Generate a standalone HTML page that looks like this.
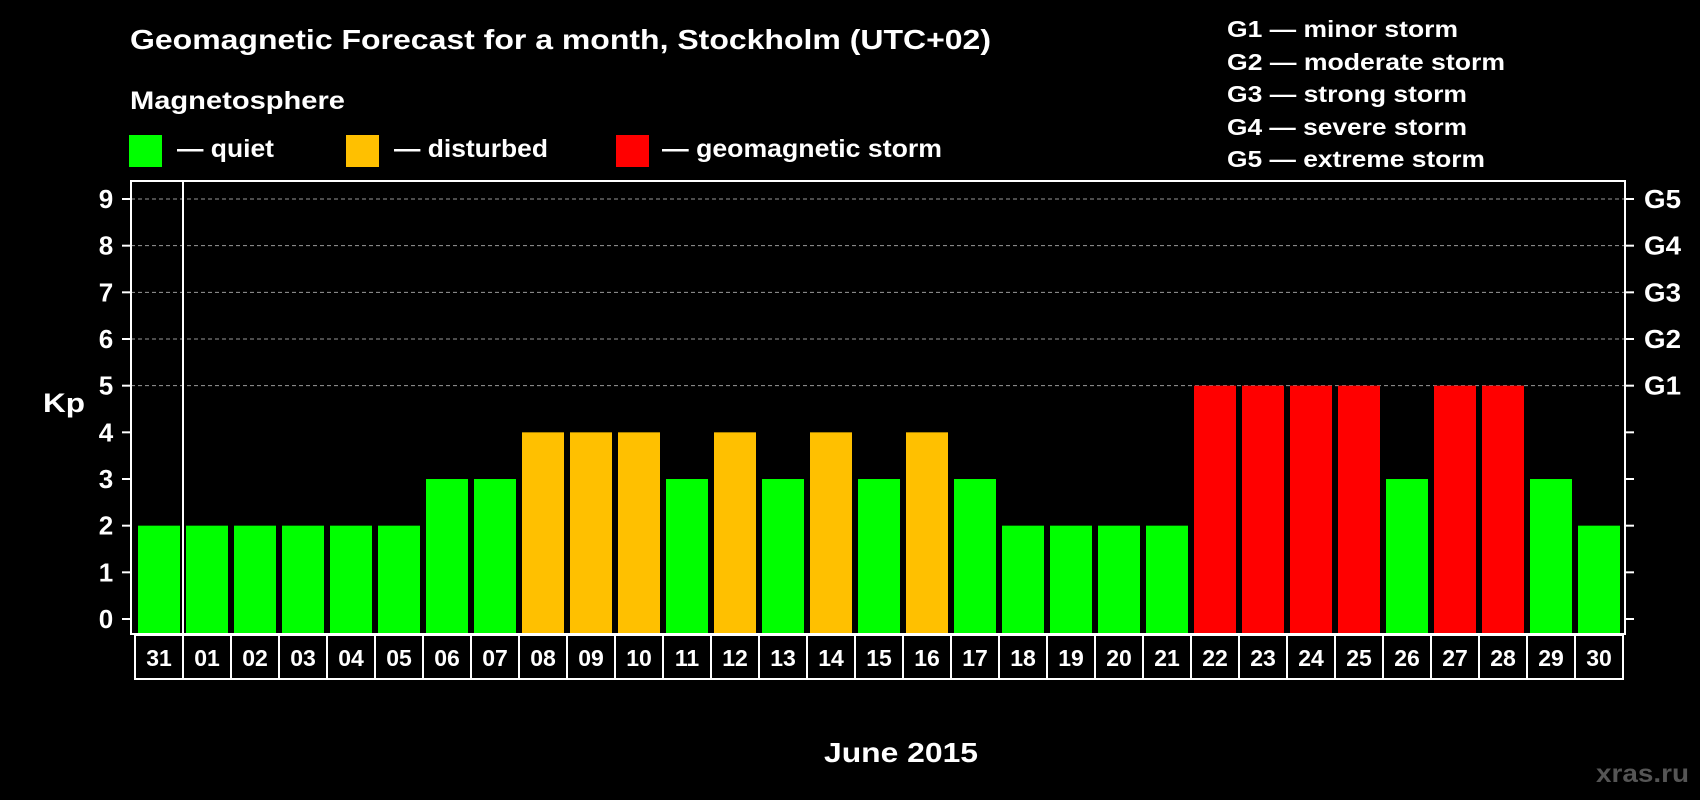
<!DOCTYPE html>
<html><head><meta charset="utf-8"><style>
html,body{margin:0;padding:0;background:#000;}
svg{display:block;font-family:"Liberation Sans",Arial,sans-serif;font-weight:bold;}
</style></head><body>
<svg id="chart" width="1700" height="800" viewBox="0 0 1700 800">
<rect x="0" y="0" width="1700" height="800" fill="#000"/>
<text x="130" y="49" font-size="28" fill="#fff" textLength="861" lengthAdjust="spacingAndGlyphs">Geomagnetic Forecast for a month, Stockholm (UTC+02)</text>
<text x="130" y="109" font-size="25" fill="#fff" textLength="215" lengthAdjust="spacingAndGlyphs">Magnetosphere</text>
<g>
<rect x="129" y="135" width="33" height="32" fill="#00ff00"/>
<text x="177" y="157" font-size="25" fill="#fff" textLength="97" lengthAdjust="spacingAndGlyphs">— quiet</text></g>
<g>
<rect x="346" y="135" width="33" height="32" fill="#ffc000"/>
<text x="394" y="157" font-size="25" fill="#fff" textLength="154" lengthAdjust="spacingAndGlyphs">— disturbed</text></g>
<g>
<rect x="616" y="135" width="33" height="32" fill="#ff0000"/>
<text x="662" y="157" font-size="25" fill="#fff" textLength="280" lengthAdjust="spacingAndGlyphs">— geomagnetic storm</text></g>
<g font-size="23" fill="#fff">
<text x="1227" y="37" textLength="231" lengthAdjust="spacingAndGlyphs">G1 — minor storm</text>
<text x="1227" y="70" textLength="278" lengthAdjust="spacingAndGlyphs">G2 — moderate storm</text>
<text x="1227" y="102" textLength="240" lengthAdjust="spacingAndGlyphs">G3 — strong storm</text>
<text x="1227" y="135" textLength="240" lengthAdjust="spacingAndGlyphs">G4 — severe storm</text>
<text x="1227" y="167" textLength="258" lengthAdjust="spacingAndGlyphs">G5 — extreme storm</text>
</g>
<text x="43" y="412" font-size="27" fill="#fff" textLength="42" lengthAdjust="spacingAndGlyphs">Kp</text>
<text x="824" y="762" font-size="28" fill="#fff" textLength="154" lengthAdjust="spacingAndGlyphs">June 2015</text>
<text x="1596" y="782" font-size="25" fill="#555" textLength="93" lengthAdjust="spacingAndGlyphs">xras.ru</text>
<g id="grid"></g><g id="bars"></g><g id="axes"></g>
</svg>
<script>
const days = ["31","01","02","03","04","05","06","07","08","09","10","11","12","13","14","15","16","17","18","19","20","21","22","23","24","25","26","27","28","29","30"];
const kpValues = [2,2,2,2,2,2,3,3,4,4,4,3,4,3,4,3,4,3,2,2,2,2,5,5,5,5,3,5,5,3,2];
const yTicks = [0,1,2,3,4,5,6,7,8,9];
const gLabels = ["G1","G2","G3","G4","G5"];
const gLevels = [5,6,7,8,9];
const NS="http://www.w3.org/2000/svg";
const X0=132, SLOT=48, Y0=619, UNIT=(619-199)/9;
const PL=131, PT=181, PR=1625, PB=634;
function xs(i){return X0+SLOT*i;}
function ys(v){return Y0-v*UNIT;}
function mk(tag,attrs,parent){const e=document.createElementNS(NS,tag);for(const k in attrs)e.setAttribute(k,attrs[k]);parent.appendChild(e);return e;}
function color(v){return v>=5?"#ff0000":(v>=4?"#ffc000":"#00ff00");}
const grid=document.getElementById('grid'),bars=document.getElementById('bars'),axes=document.getElementById('axes');
gLevels.forEach((v,i)=>{
  const l=mk('line',{x1:PL,x2:PR,y1:ys(v),y2:ys(v),stroke:'#999','stroke-dasharray':'4,3','stroke-width':1},grid);
  
  
  const t=mk('text',{x:1644,y:ys(v)+9,'font-size':26,fill:'#fff',textLength:37,lengthAdjust:'spacingAndGlyphs'},axes);
  t.textContent=gLabels[i];
  
  
});
kpValues.forEach((v,i)=>{
  const r=mk('rect',{x:xs(i)+6,y:ys(v),width:42,height:PB-ys(v)-1,fill:color(v)},bars);
  
  
});
const frame=mk('rect',{x:PL,y:PT,width:PR-PL,height:PB-PT,fill:'none',stroke:'#fff','stroke-width':2},axes);


const div=mk('line',{x1:183,x2:183,y1:PT,y2:PB,stroke:'#fff','stroke-width':2},axes);


yTicks.forEach(v=>{
  const a=mk('line',{x1:122,x2:PL,y1:ys(v),y2:ys(v),stroke:'#fff','stroke-width':2},axes);
  
  
  const b=mk('line',{x1:PR,x2:1634,y1:ys(v),y2:ys(v),stroke:'#fff','stroke-width':2},axes);
  
  
  const t=mk('text',{x:106,y:ys(v)+9,'font-size':26,fill:'#fff','text-anchor':'middle'},axes);
  t.textContent=v;
  
  
});
const box=mk('rect',{x:135,y:635,width:1488,height:44,fill:'none',stroke:'#fff','stroke-width':2},axes);


days.forEach((d,i)=>{
  if(i>0){const l=mk('line',{x1:135+SLOT*i,x2:135+SLOT*i,y1:635,y2:679,stroke:'#fff','stroke-width':2},axes);
  
  }
  const t=mk('text',{x:135+SLOT*i+24,y:666,'font-size':23,fill:'#fff','text-anchor':'middle'},axes);
  t.textContent=d;
  
  
});
</script>
</body></html>
